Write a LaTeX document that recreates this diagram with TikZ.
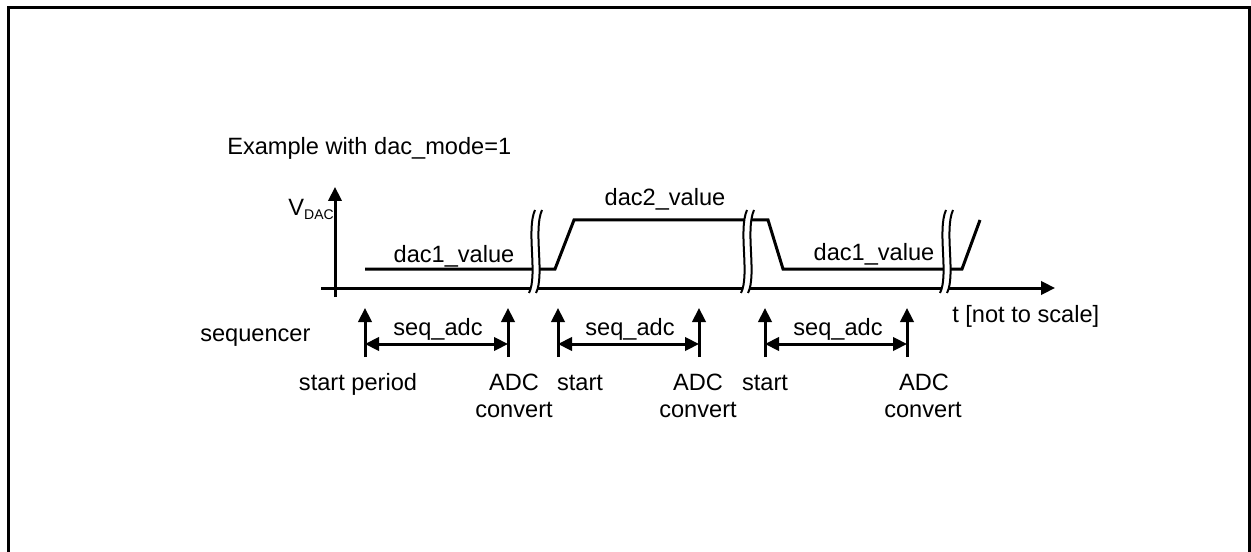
\documentclass[tikz,border=0pt]{standalone}
\usepackage{fontspec}
\setmainfont{Liberation Sans}
\usetikzlibrary{arrows.meta}
\newcommand\brkmark[1]{%
  \fill[white] (#1+3,210) .. controls (#1-6,230) and (#1+6,275) .. (#1-3,293)
     -- (#1+4,293) .. controls (#1+13,275) and (#1+1,230) .. (#1+10,210) -- cycle;
  \draw[brkline] (#1+3,210) .. controls (#1-6,230) and (#1+6,275) .. (#1-3,293);
  \draw[brkline] (#1+10,210) .. controls (#1+1,230) and (#1+13,275) .. (#1+4,293);
}
\begin{document}
\begin{tikzpicture}[x=0.75pt,y=-0.75pt,
  sig/.style={line width=2.25pt, line join=miter},
  uparrow/.style={line width=2.25pt, -{Triangle[length=10.5pt,width=10pt]}},
  dblarrow/.style={line width=2.25pt, {Triangle[length=10.5pt,width=10pt]}-{Triangle[length=10.5pt,width=10pt]}},
  lbl/.style={font=\fontsize{17.7pt}{21pt}\selectfont, inner sep=0pt, anchor=base},
  brkline/.style={line width=1.5pt}]
\useasboundingbox (0,0) rectangle (1251,552);
% frame
\draw[line width=2.25pt] (8,560) -- (8,8) -- (1249,8) -- (1249,560);
% axes
\coordinate (vbot) at (335,297);
\coordinate (vtop) at (335,187);
\coordinate (tleft) at (321,288);
\coordinate (tright) at (1055,288);
\draw[uparrow] (vbot) -- (vtop);
\draw[uparrow] (tleft) -- (tright);
% signal
\draw[sig] (365,269) -- (555,269) -- (574,220) -- (768,220) -- (783,269) -- (962,269) -- (980,220);
% breaks
\brkmark{532}
\brkmark{744}
\brkmark{943}
% sequencer arrows
\foreach \n/\x in {a/365,b/508,c/558,d/699,e/765,f/907}{
  \coordinate (\n0) at (\x,357);
  \coordinate (\n1) at (\x,308);
  \coordinate (\n m) at (\x,344);
  \draw[uparrow] (\n0) -- (\n1);
}
\draw[dblarrow] (am) -- (bm);
\draw[dblarrow] (cm) -- (dm);
\draw[dblarrow] (em) -- (fm);
% labels
\node[lbl, anchor=base west] (title) at (227,155) {Example with dac\_mode=1};
\node[lbl, anchor=base east] (vdac) at (334,215) {V\raisebox{-3pt}{\fontsize{10.5pt}{12pt}\selectfont DAC}};
\node[lbl] (d1a) at (454,262) {dac1\_value};
\node[lbl] (d2) at (665,206) {dac2\_value};
\node[lbl] (d1b) at (874,260) {dac1\_value};
\node[lbl, anchor=base west] (tlab) at (952,322) {t [not to scale]};
\node[lbl, anchor=base west] (seqr) at (200,341) {sequencer};
\node[lbl] (s1) at (438,335) {seq\_adc};
\node[lbl] (s2) at (630,335) {seq\_adc};
\node[lbl] (s3) at (838,335) {seq\_adc};
\node[lbl] (sp) at (358,390) {start period};
\node[lbl] (st1) at (580,390) {start};
\node[lbl] (st2) at (765,390) {start};
\node[lbl] (adc1) at (514,390) {ADC};
\node[lbl] (cv1) at (514,417) {convert};
\node[lbl] (adc2) at (698,390) {ADC};
\node[lbl] (cv2) at (698,417) {convert};
\node[lbl] (adc3) at (924,390) {ADC};
\node[lbl] (cv3) at (923,417) {convert};
\end{tikzpicture}
\end{document}
